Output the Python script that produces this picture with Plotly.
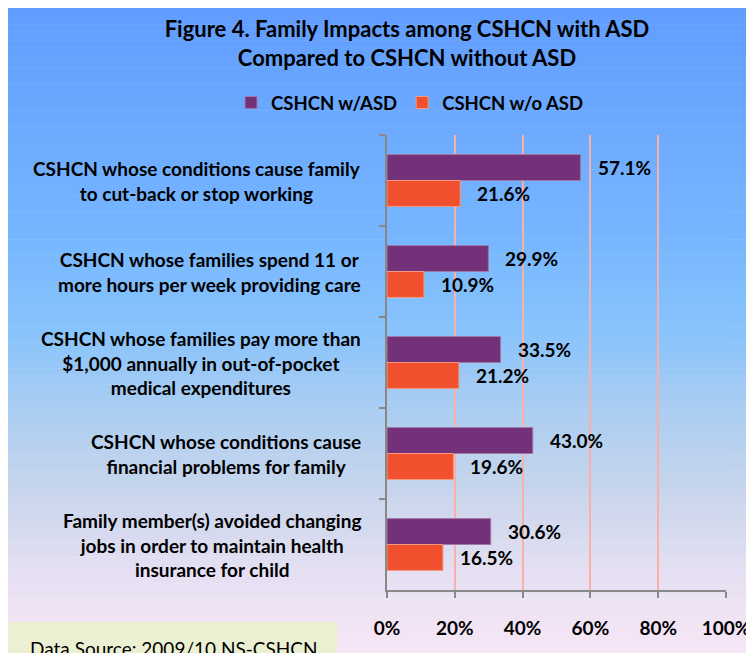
import plotly.graph_objects as go

# ---- data ----
categories = [
    "CSHCN whose conditions cause family<br>to cut-back or stop working",
    "CSHCN whose families spend 11 or<br>more hours per week providing care",
    "CSHCN whose families pay more than<br>$1,000 annually in out-of-pocket<br>medical expenditures",
    "CSHCN whose conditions cause<br>financial problems for family",
    "Family member(s) avoided changing<br>jobs in order to maintain health<br>insurance for child",
]
series_names = ["CSHCN w/ASD", "CSHCN w/o ASD"]
with_asd = [57.1, 29.9, 33.5, 43.0, 30.6]
without_asd = [21.6, 10.9, 21.2, 19.6, 16.5]
x_ticks = [0, 20, 40, 60, 80, 100]
x_tick_labels = ["0%", "20%", "40%", "60%", "80%", "100%"]

title_text = "Figure 4. Family Impacts among CSHCN with ASD<br>Compared to CSHCN without ASD"
source_text = "Data Source: 2009/10 NS-CSHCN"

# ---- styling ----
OFF = 8  # page body margin
W, H = 754 - OFF, 653 - OFF
ML, MR, MT, MB = 387 - OFF, 754 - 726, 135 - OFF, 653 - 590
PW, PH = W - ML - MR, H - MT - MB
FONT = "Lato, 'Open Sans', sans-serif"
PURPLE = "#73317A"
ORANGE = "#F0502D"
BARGAP = 0.43


def px_x(px):  # screen px -> paper
    return (px - OFF - ML) / PW


def px_y(py):
    return (H - MB - (py - OFF)) / PH


fig = go.Figure()
colors = [PURPLE, ORANGE]
lines = ["#A079A6", "#F59A80"]
for name, vals, c, lc in zip(series_names, [with_asd, without_asd], colors, lines):
    fig.add_trace(go.Bar(
        y=categories, x=vals, name=name, orientation="h",
        marker=dict(color=c, line=dict(color=lc, width=1)),
        hoverinfo="x+name",
    ))

# gradient background
stops = [
    (0.00, (97, 157, 255)),
    (0.35, (118, 182, 255)),
    (0.50, (135, 195, 252)),
    (0.62, (170, 205, 242)),
    (0.75, (200, 213, 236)),
    (0.88, (230, 224, 242)),
    (1.00, (247, 230, 246)),
]


def grad(t):
    for (a, ca), (b, cb) in zip(stops[:-1], stops[1:]):
        if a <= t <= b:
            f = (t - a) / (b - a)
            return tuple(int(round(ca[i] + (cb[i] - ca[i]) * f)) for i in range(3))
    return stops[-1][1]


shapes = []
top, bottom = OFF, 653
n = 120
for i in range(n):
    y0 = top + (bottom - top) * i / n
    y1 = top + (bottom - top) * (i + 1) / n + 0.6
    c = grad((i + 0.5) / n)
    shapes.append(dict(
        type="rect", xref="paper", yref="paper", layer="below",
        x0=px_x(OFF - 2), x1=px_x(760), y0=px_y(y1), y1=px_y(y0),
        line=dict(width=0), fillcolor="rgb(%d,%d,%d)" % c,
    ))
# data source box
shapes.append(dict(
    type="rect", xref="paper", yref="paper", layer="below",
    x0=px_x(OFF), x1=px_x(337), y0=px_y(660), y1=px_y(622),
    line=dict(width=0), fillcolor="#ECF0D2",
))

LABEL_FONT = dict(family=FONT, size=19, color="black", weight="bold")
annotations = []
# category labels: centred lines, block right-aligned
for cat in categories:
    annotations.append(dict(
        x=px_x(363), xref="paper", y=cat, yref="y",
        text=cat, showarrow=False, xanchor="right", yanchor="middle",
        align="center", font=LABEL_FONT,
    ))
# value labels
half = (1 - BARGAP) / 4
for k, vals in enumerate([with_asd, without_asd]):
    sign = -1 if k == 0 else 1
    for i, v in enumerate(vals):
        annotations.append(dict(
            x=v, xref="x", y=i + sign * half, yref="y",
            text="%.1f%%" % v, showarrow=False, xanchor="left", yanchor="middle",
            xshift=15, font=LABEL_FONT,
        ))
annotations.append(dict(
    x=px_x(173), xref="paper", y=px_y(648), yref="paper",
    text=source_text, showarrow=False, xanchor="center", yanchor="middle",
    font=dict(family=FONT, size=19, color="black"),
))

fig.update_layout(
    width=W, height=H,
    margin=dict(l=ML, r=MR, t=MT, b=MB, pad=0, autoexpand=False),
    paper_bgcolor="white",
    plot_bgcolor="#ECEFD3",
    barmode="group", bargap=BARGAP, bargroupgap=0,
    font=dict(family=FONT, color="black"),
    title=dict(
        text=title_text, x=(407 - OFF) / W, xanchor="center", xref="container",
        y=1 - (37 - OFF) / H, yanchor="middle", yref="container",
        font=dict(family=FONT, size=22, color="black", weight="bold"),
    ),
    legend=dict(
        orientation="h", xref="paper", yref="paper",
        x=px_x(231), xanchor="left", y=px_y(103), yanchor="middle",
        font=dict(family=FONT, size=18.5, color="black", weight="bold"),
        bgcolor="rgba(0,0,0,0)", traceorder="normal", itemwidth=30,
    ),
    xaxis=dict(
        range=[0, 100], tickvals=x_ticks, ticktext=x_tick_labels,
        showgrid=True, gridcolor="#FAB0A6", gridwidth=1.5, zeroline=False,
        showline=True, linecolor="#888888", linewidth=1.5,
        ticks="outside", ticklen=6, tickcolor="#888888", tickwidth=1.5,
        tickfont=dict(family=FONT, size=19, color="black", weight="bold"),
        ticklabelstandoff=14,
    ),
    yaxis=dict(
        type="category", range=[4.5, -0.5], showgrid=False,
        showline=True, linecolor="#888888", linewidth=1.5,
        ticks="outside", ticklen=6, tickcolor="#888888", tickwidth=1.5,
        tickson="boundaries", showticklabels=False,
    ),
    shapes=shapes,
    annotations=annotations,
    showlegend=True,
)

fig.write_html("out.html")
